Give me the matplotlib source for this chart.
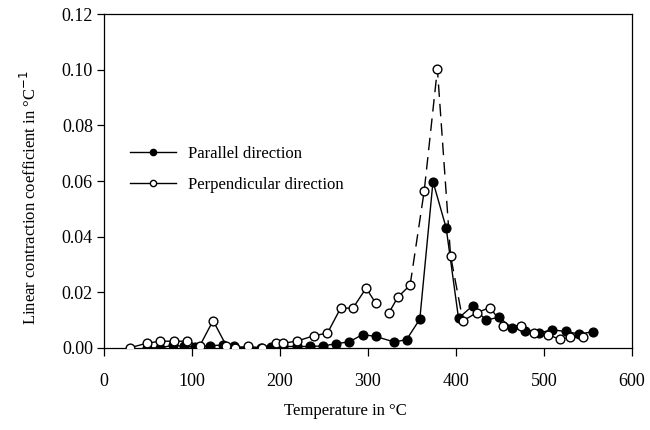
import matplotlib
matplotlib.use('Agg')
import matplotlib.pyplot as plt

plt.rcParams['font.family'] = ['Liberation Serif', 'DejaVu Serif']

# parallel direction (filled circles)
temp_par = [49, 64, 79, 91, 104, 120, 135, 148, 164, 179, 190, 204, 219, 234, 249,
            264, 279, 294, 309, 330, 344, 359, 374, 389, 403, 419, 434, 449, 464,
            479, 494, 509, 525, 540, 556]
coef_par = [0.000, 0.000, 0.001, 0.0005, 0.0003, 0.0008, 0.001, 0.0005, 0.000, 0.000,
            0.0003, 0.0005, 0.0005, 0.0005, 0.0007, 0.0015, 0.0022, 0.0048, 0.0041,
            0.0021, 0.003, 0.0103, 0.0598, 0.0431, 0.0107, 0.0151, 0.010, 0.011,
            0.0071, 0.0062, 0.0053, 0.0065, 0.0059, 0.005, 0.0058]

# perpendicular direction (open circles)
temp_perp = [29, 49, 64, 80, 94, 109, 124, 139, 149, 164, 180, 195, 204, 219, 239, 254,
             269, 283, 298, 309, 324, 334, 348, 364, 379, 394, 408, 424, 439, 454,
             474, 489, 505, 518, 530, 545]
coef_perp = [0.000, 0.0017, 0.0024, 0.0024, 0.0024, 0.0008, 0.0098, 0.0008, 0.000,
             0.0005, 0.000, 0.0017, 0.0017, 0.0024, 0.0044, 0.0053, 0.0143, 0.0143,
             0.0215, 0.016, 0.0127, 0.0182, 0.0226, 0.0564, 0.1003, 0.0331, 0.0097,
             0.0127, 0.0145, 0.0079, 0.008, 0.0055, 0.0047, 0.0031, 0.0038, 0.0038]

fig = plt.figure(figsize=(6.5, 4.3), dpi=100)
ax = fig.add_axes([0.160, 0.191, 0.812, 0.776])

lw = 1.0
ms = 6.3
# perpendicular line: solid pieces, break after 309, dashed around the peak
ax.plot(temp_perp[:20], coef_perp[:20], color='black', lw=lw, zorder=2)
ax.plot(temp_perp[20:23], coef_perp[20:23], color='black', lw=lw, zorder=2)
ax.plot(temp_perp[22:27], coef_perp[22:27], color='black', lw=lw,
        dashes=(9, 5), zorder=2)
ax.plot(temp_perp[26:], coef_perp[26:], color='black', lw=lw, zorder=2)

ax.plot(temp_par, coef_par, color='black', lw=lw, zorder=3)
ax.plot(temp_par, coef_par, 'o', color='black', ms=ms, zorder=4)
ax.plot(temp_perp, coef_perp, 'o', mfc='white', mec='black', mew=1.0, ms=ms, zorder=5)

h1, = ax.plot([], [], '-o', color='black', lw=lw, ms=4.5, label='Parallel direction')
h2, = ax.plot([], [], '-o', color='black', mfc='white', lw=lw, ms=4.5,
              label='Perpendicular direction')
ax.legend(handles=[h1, h2], loc='upper left', bbox_to_anchor=(0.02, 0.65),
          frameon=False, fontsize=12, handlelength=2.8, handletextpad=0.7,
          labelspacing=0.9)

ax.set_xlim(0, 600)
ax.set_ylim(0, 0.12)
ax.set_xticks(range(0, 601, 100))
ax.set_yticks([0.00, 0.02, 0.04, 0.06, 0.08, 0.10, 0.12])
ax.set_yticklabels(['0.00', '0.02', '0.04', '0.06', '0.08', '0.10', '0.12'])
ax.tick_params(axis='both', direction='out', labelsize=13, width=0.9, colors='black')
ax.tick_params(axis='x', length=6, pad=12)
ax.tick_params(axis='y', length=5, pad=3)
for s in ax.spines.values():
    s.set_linewidth(0.9)

ax.set_xlabel('Temperature in °C', fontsize=12)
ax.xaxis.set_label_coords(0.458, -0.165)
ax.set_ylabel('Linear contraction coefficient in °C$^{-1}$', fontsize=12)
ax.yaxis.set_label_coords(-0.122, 0.45)

fig.savefig('out.png', dpi=100)
